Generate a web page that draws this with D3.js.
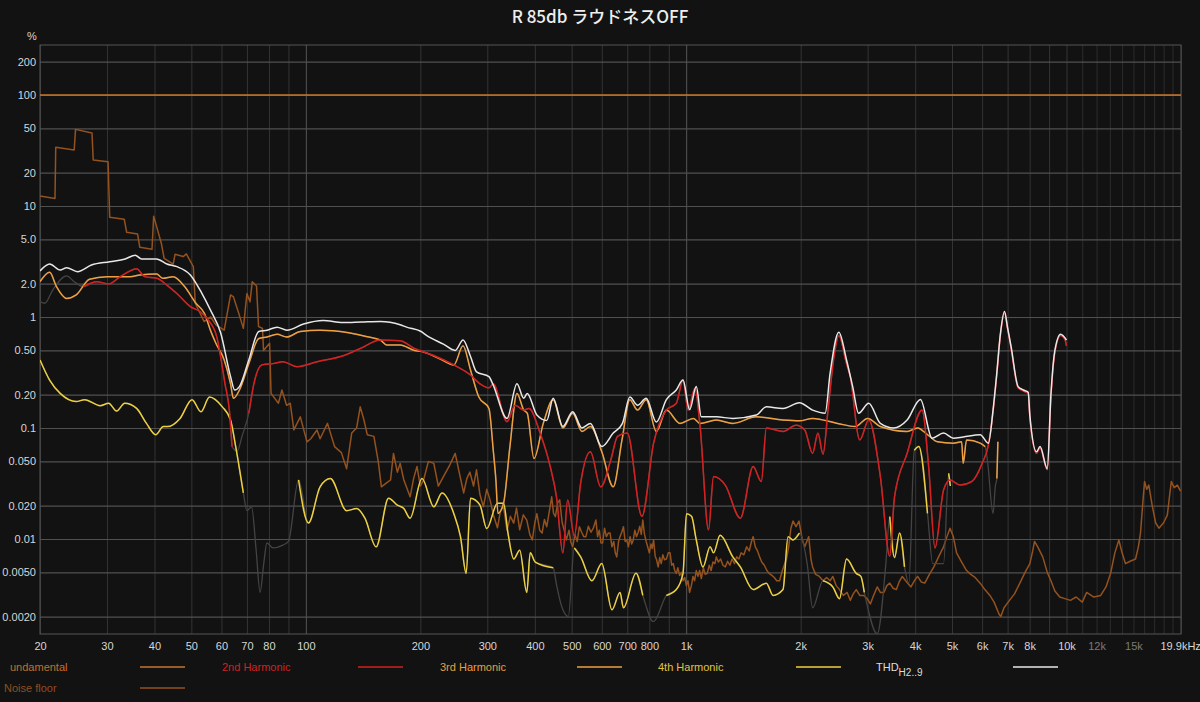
<!DOCTYPE html>
<html><head><meta charset="utf-8">
<script src="https://cdn.jsdelivr.net/npm/d3@7/dist/d3.min.js"></script>
<style>
html,body{margin:0;padding:0;background:#121212;}
svg{display:block;font-family:"Liberation Sans",Arial,sans-serif;}
</style></head>
<body>
<script>
// ---------------- DATA ----------------
const chartTitle = "R 85db ラウドネスOFF";
const yUnit = "%";
const xTickValues = [20,30,40,50,60,70,80,100,200,300,400,500,600,700,800,1000,2000,3000,4000,5000,6000,7000,8000,10000,12000,15000,19900];
const xTickLabels = ["20","30","40","50","60","70","80","100","200","300","400","500","600","700","800","1k","2k","3k","4k","5k","6k","7k","8k","10k","12k","15k","19.9kHz"];
const yTickValues = [200,100,50,20,10,5,2,1,0.5,0.2,0.1,0.05,0.02,0.01,0.005,0.002];
const yTickLabels = ["200","100","50","20","10","5.0","2.0","1","0.50","0.20","0.1","0.050","0.020","0.01","0.0050","0.0020"];

const fundamental = [[20,100],[20000,100]];

const noiseFloor = [[20,12.3],[21.9,11.7],[22,33.8],[24.6,32],[24.8,49],[27.4,45.5],[27.6,26],[30.2,25],[30.5,7.9],[33.3,7.6],[33.8,5.8],[36.1,5.6],[36.6,4.24],[39.4,4.07],[39.8,8.1],[41.7,4.6],[42.4,3.38],[44.8,3.0],[45.3,3.67],[47.6,3.5],[48.5,3.7],[50.6,2.84],[51.2,1.33],[54,0.91],[56.2,1.0],[58,0.85],[61,0.76],[63.4,1.58],[64.5,1.52],[66.5,1.1],[68.5,0.79],[70,1.63],[71.3,1.37],[72.3,2.08],[74.2,1.9],[75.1,0.82],[76.9,0.79],[77.4,0.5],[80.3,0.58],[81,0.205],[84.7,0.167],[86.5,0.22],[89,0.16],[91,0.167],[93,0.096],[96.7,0.126],[100.7,0.075],[103,0.08],[107,0.096],[109,0.08],[114,0.11],[119,0.068],[124,0.06],[128,0.043],[132,0.09],[136,0.1],[139,0.155],[142,0.12],[145,0.087],[151,0.084],[155,0.05],[158,0.0295],[163,0.032],[167,0.034],[170,0.059],[174,0.04],[177,0.048],[181,0.034],[188,0.024],[192,0.035],[196,0.045],[200,0.03],[204,0.034],[210,0.05],[217,0.048],[223,0.03],[230,0.0365],[238,0.045],[247,0.059],[253,0.04],[260,0.026],[265,0.035],[270,0.04],[276,0.03],[281,0.042],[287,0.025],[293,0.0195],[299,0.028],[305,0.0225],[312,0.016],[319,0.0126],[325,0.018],[331,0.0195],[338,0.012],[345,0.016],[352,0.0139],[358,0.019],[365,0.0121],[373,0.0165],[381,0.0148],[388,0.011],[394,0.0098],[400,0.014],[405,0.0169],[412,0.012],[418,0.0113],[424,0.015],[430,0.0129],[437,0.018],[443,0.024],[448,0.017],[453,0.0159],[459,0.021],[465,0.0225],[472,0.014],[478,0.012],[484,0.0098],[492,0.012],[497,0.0095],[503,0.0085],[510,0.011],[517,0.0095],[524,0.0129],[531,0.0115],[538,0.0105],[545,0.0105],[553,0.013],[562,0.0115],[570,0.0125],[579,0.0148],[585,0.0105],[591,0.012],[597,0.0092],[603,0.0092],[610,0.0125],[617,0.0105],[624,0.0113],[631,0.0113],[638,0.0085],[645,0.0095],[651,0.0075],[657,0.0069],[664,0.0095],[670,0.0105],[677,0.0115],[684,0.0129],[691,0.0095],[698,0.0098],[705,0.0085],[712,0.0105],[719,0.009],[726,0.0098],[733,0.012],[740,0.0105],[748,0.0115],[755,0.013],[762,0.011],[769,0.0148],[777,0.011],[785,0.0095],[792,0.0085],[800,0.0075],[808,0.009],[814,0.0082],[821,0.0098],[829,0.007],[836,0.0065],[844,0.0056],[852,0.0068],[860,0.006],[868,0.0072],[877,0.0065],[887,0.0066],[897,0.0075],[907,0.0075],[916,0.0058],[925,0.006],[933,0.0052],[942,0.0049],[951,0.0055],[961,0.0047],[971,0.005],[981,0.0042],[991,0.0045],[1001,0.0038],[1011,0.0042],[1021,0.0033],[1032,0.0038],[1042,0.0046],[1052,0.0042],[1063,0.0052],[1074,0.0046],[1085,0.0052],[1096,0.0044],[1110,0.0055],[1122,0.0048],[1136,0.0049],[1150,0.0058],[1163,0.0052],[1176,0.0062],[1190,0.006],[1200,0.0069],[1215,0.0062],[1232,0.0066],[1249,0.0058],[1267,0.0056],[1285,0.0063],[1303,0.0058],[1320,0.0066],[1340,0.006],[1357,0.0069],[1376,0.0066],[1395,0.0075],[1418,0.0072],[1442,0.0085],[1465,0.0078],[1485,0.0095],[1500,0.0105],[1520,0.0085],[1540,0.0078],[1560,0.0069],[1580,0.0062],[1605,0.0058],[1630,0.0052],[1652,0.0049],[1680,0.0047],[1705,0.0045],[1730,0.0042],[1760,0.0042],[1790,0.0052],[1835,0.0066],[1860,0.0085],[1885,0.0125],[1910,0.0145],[1945,0.0129],[1980,0.0145],[2020,0.0098],[2050,0.0085],[2100,0.0105],[2130,0.0065],[2150,0.0056],[2190,0.0048],[2240,0.0046],[2290,0.0042],[2340,0.0045],[2390,0.0042],[2430,0.0046],[2480,0.0038],[2530,0.0035],[2590,0.0031],[2650,0.0033],[2700,0.0028],[2750,0.0032],[2800,0.0035],[2860,0.0031],[2930,0.0031],[2990,0.0029],[3050,0.0026],[3110,0.0031],[3180,0.0037],[3240,0.0033],[3310,0.0033],[3370,0.0038],[3430,0.004],[3500,0.0036],[3570,0.0035],[3630,0.0041],[3700,0.0046],[3800,0.0041],[3900,0.0037],[3980,0.0042],[4060,0.0046],[4150,0.0041],[4240,0.004],[4360,0.0048],[4480,0.0056],[4620,0.007],[4750,0.0085],[4850,0.0105],[4940,0.0125],[5040,0.0105],[5140,0.0075],[5300,0.0062],[5460,0.0052],[5600,0.0048],[5750,0.0045],[5930,0.004],[6100,0.0035],[6290,0.0031],[6450,0.0027],[6650,0.0021],[6720,0.002],[6850,0.0024],[7080,0.0028],[7300,0.0032],[7540,0.004],[7780,0.005],[8010,0.006],[8150,0.0078],[8240,0.0095],[8400,0.0085],[8660,0.0069],[8900,0.005],[9100,0.0042],[9320,0.0034],[9600,0.003],[9900,0.0029],[10240,0.0028],[10600,0.003],[11000,0.0027],[11300,0.0033],[11800,0.003],[12300,0.0031],[12700,0.0037],[13060,0.0049],[13400,0.0075],[13730,0.0098],[14000,0.0075],[14290,0.006],[14700,0.0063],[15190,0.0066],[15450,0.0085],[15650,0.0113],[15850,0.02],[16040,0.0329],[16250,0.028],[16460,0.0306],[16800,0.02],[17150,0.014],[17500,0.0125],[18000,0.014],[18410,0.0164],[18650,0.024],[18860,0.0329],[19200,0.029],[19560,0.0306],[19950,0.027]];

const h2 = [[20,1.37],[20.6,1.33],[21.6,1.75],[23.5,2.35],[24.6,2.08],[26,1.88],[28.2,2.08],[30.3,1.98],[32.5,2.31],[34.2,2.56],[35.9,2.72],[37.7,2.31],[40.6,2.23],[43.1,1.94],[45.8,1.63],[49.7,1.24],[52.7,1.12],[55.4,0.94],[58.3,0.665],[61.3,0.25],[63,0.14],[64,0.068],[66,0.062],[68,0.085],[70.8,0.136],[73,0.25],[76.6,0.37],[82,0.38],[87,0.395],[94.7,0.357],[107,0.395],[126,0.45],[139,0.52],[157,0.62],[177,0.61],[193,0.52],[217,0.45],[245,0.37],[271,0.3],[287,0.25],[303,0.23],[311,0.25],[338,0.114],[355,0.16],[374,0.145],[386,0.15],[413,0.09],[439,0.045],[456,0.024],[474,0.0075],[488,0.0225],[508,0.0106],[528,0.032],[560,0.061],[596,0.0295],[634,0.052],[660,0.084],[700,0.09],[765,0.016],[821,0.073],[887,0.145],[942,0.167],[981,0.27],[1012,0.145],[1054,0.228],[1088,0.103],[1145,0.0121],[1180,0.0365],[1267,0.0306],[1388,0.0154],[1500,0.045],[1576,0.0329],[1625,0.1],[1797,0.093],[1945,0.106],[2050,0.096],[2150,0.059],[2220,0.09],[2290,0.058],[2360,0.145],[2450,0.45],[2520,0.68],[2640,0.38],[2700,0.29],[2860,0.078],[3020,0.118],[3240,0.0365],[3430,0.007],[3530,0.024],[3810,0.059],[4170,0.145],[4340,0.045],[4510,0.0083],[4750,0.0276],[4940,0.034],[5250,0.0306],[5640,0.033],[6000,0.048],[6230,0.07],[6410,0.14],[6550,0.29],[6700,0.68],[6870,1.09],[7000,0.78],[7150,0.52],[7460,0.23],[7700,0.215],[7930,0.205],[8010,0.125],[8340,0.059],[8520,0.066],[8900,0.042],[9100,0.19],[9320,0.48],[9650,0.68],[9900,0.63],[10000,0.55]];
const h2Faded = [[19,25.9],[64.5,70.5]];

const h3 = [[20,2.08],[21.2,2.53],[22.1,1.88],[23.5,1.47],[24.9,1.58],[27,2.19],[30,2.31],[34.5,2.31],[36.6,2.39],[40.5,2.44],[42.1,2.23],[44.8,2.31],[48,1.88],[51.4,1.33],[54.1,1.08],[56.2,0.75],[58,0.58],[61,0.41],[63.4,0.25],[64.5,0.185],[66.9,0.22],[70.8,0.38],[75.2,0.64],[79,0.66],[84,0.70],[89,0.66],[96.7,0.74],[109,0.76],[118,0.75],[145,0.665],[157,0.62],[163,0.56],[177,0.56],[193,0.50],[201,0.49],[225,0.42],[245,0.37],[259,0.55],[271,0.333],[285,0.19],[303,0.15],[311,0.063],[316,0.034],[320,0.017],[331,0.021],[344,0.068],[359,0.205],[374,0.145],[382,0.136],[398,0.053],[421,0.11],[447,0.18],[474,0.1],[503,0.136],[532,0.093],[560,0.103],[600,0.061],[643,0.0295],[678,0.078],[711,0.18],[745,0.145],[785,0.18],[835,0.093],[887,0.145],[963,0.11],[1045,0.122],[1088,0.11],[1200,0.118],[1326,0.11],[1529,0.126],[1797,0.118],[1985,0.116],[2150,0.122],[2500,0.11],[2780,0.103],[3000,0.122],[3240,0.103],[3810,0.093],[4060,0.1],[4310,0.087],[4580,0.075],[5040,0.073],[5300,0.075],[5350,0.048],[5460,0.078],[5930,0.073],[6110,0.068],[6200,0.05],[6410,0.017],[6500,0.03],[6560,0.035],[6600,0.075]];
const h3Faded = [[6150,6550]];

const h4 = [[20,0.41],[21.2,0.27],[22.6,0.205],[24.9,0.173],[26.2,0.18],[28.8,0.159],[30.3,0.167],[31.8,0.142],[33.4,0.167],[35.9,0.15],[38.1,0.11],[40.3,0.087],[42.2,0.103],[43.3,0.103],[46.7,0.122],[50.2,0.18],[53,0.14],[55.8,0.19],[60.3,0.155],[63.4,0.118],[65.4,0.068],[68.5,0.026],[70,0.018],[72,0.0195],[74,0.008],[75.8,0.0033],[77.5,0.006],[79,0.0092],[82,0.0083],[87,0.0088],[90,0.0095],[95.7,0.034],[101.6,0.0139],[109,0.0295],[116,0.035],[128,0.018],[136,0.0188],[143,0.0154],[153,0.0085],[165,0.0233],[174,0.0202],[181,0.0188],[188,0.0154],[202,0.035],[217,0.0195],[228,0.026],[245,0.0169],[255,0.0105],[264,0.0049],[271,0.0233],[287,0.0202],[299,0.0124],[319,0.021],[331,0.021],[340,0.0113],[352,0.0066],[365,0.0079],[381,0.0033],[389,0.0075],[401,0.0062],[447,0.0055],[456,0.0039],[470,0.0025],[490,0.002],[508,0.0083],[528,0.0069],[565,0.0042],[600,0.006],[638,0.0023],[670,0.0033],[684,0.0024],[738,0.0049],[769,0.0031],[820,0.0018],[887,0.0031],[942,0.0035],[981,0.0049],[1002,0.0169],[1033,0.016],[1063,0.0098],[1107,0.0056],[1156,0.0085],[1180,0.0075],[1228,0.0108],[1326,0.0069],[1388,0.0056],[1500,0.0035],[1625,0.004],[1692,0.0031],[1797,0.0035],[1853,0.0105],[1908,0.0098],[1985,0.0113],[2080,0.006],[2150,0.0024],[2290,0.0042],[2430,0.0037],[2530,0.0029],[2640,0.0066],[2800,0.0049],[2880,0.0046],[2940,0.0033],[3180,0.0014],[3350,0.006],[3430,0.0159],[3530,0.0068],[3640,0.0113],[3750,0.0056],[3850,0.004],[3980,0.063],[4090,0.068],[4310,0.017],[4450,0.006],[4750,0.006],[4900,0.039],[4950,0.03]];
const h4Faded = [[69,92],[455,500],[780,870],[2080,2200],[3000,3380],[3780,3950],[4350,4850]];

const thd = [[20,2.6],[21.2,3.0],[22.6,2.65],[23.5,2.78],[25.1,2.56],[27.3,2.94],[30.5,3.15],[33.5,3.33],[35.6,3.6],[37,3.33],[40.5,3.33],[43.1,3.0],[45.8,2.84],[49.7,2.39],[53.2,1.65],[56.1,1.16],[59.7,0.72],[63.4,0.29],[65,0.22],[66.9,0.236],[70.8,0.41],[75.2,0.74],[79.1,0.76],[84,0.81],[89.2,0.76],[98.6,0.865],[111,0.93],[125,0.89],[140,0.9],[157,0.91],[177,0.85],[184,0.81],[201,0.74],[208,0.68],[230,0.57],[247,0.5],[259,0.62],[271,0.44],[281,0.32],[303,0.29],[310,0.25],[338,0.122],[359,0.25],[374,0.185],[382,0.205],[405,0.131],[430,0.117],[447,0.185],[474,0.103],[503,0.14],[532,0.1],[560,0.11],[600,0.068],[643,0.09],[680,0.11],[711,0.19],[745,0.16],[785,0.185],[835,0.113],[887,0.18],[942,0.22],[981,0.27],[1021,0.146],[1063,0.236],[1096,0.126],[1200,0.126],[1326,0.122],[1529,0.131],[1625,0.155],[1797,0.15],[1985,0.169],[2150,0.145],[2320,0.136],[2390,0.31],[2520,0.73],[2640,0.41],[2740,0.236],[2840,0.136],[3020,0.167],[3240,0.11],[3510,0.1],[3810,0.118],[4130,0.181],[4430,0.081],[4750,0.09],[5040,0.081],[5350,0.083],[5930,0.087],[6230,0.073],[6410,0.145],[6550,0.3],[6700,0.7],[6870,1.12],[7000,0.8],[7150,0.54],[7460,0.236],[7700,0.22],[7930,0.21],[8010,0.13],[8340,0.061],[8520,0.068],[8900,0.043],[9100,0.2],[9320,0.5],[9650,0.7],[10000,0.62]];

const legendNames = ["undamental","2nd Harmonic","3rd Harmonic","4th Harmonic","THD","Noise floor"];

// ---------------- CHART ----------------
const W = 1200, H = 702;
const L = 40, R = 1181, T = 45, B = 634;
const x = d3.scaleLog().domain([20, 20000]).range([L, R]);
const y = d3.scaleLog().domain([0.001393, 282.1]).range([B, T]);

const svg = d3.select("body").append("svg").attr("width", W).attr("height", H);
svg.append("rect").attr("width", W).attr("height", H).attr("fill", "#121212");

svg.append("defs").append("clipPath").attr("id", "plot")
  .append("rect").attr("x", L).attr("y", T).attr("width", R - L).attr("height", B - T);

// vertical grid
const gridF = [];
[10, 100, 1000, 10000].forEach(d => { for (let m = 1; m <= 9; m++) { const f = d * m; if (f >= 20 && f <= 20000) gridF.push(f); } });
for (let k = 11; k <= 19; k++) gridF.push(k * 1000);
const vg = svg.append("g").attr("transform", `translate(0,${B})`)
  .call(d3.axisBottom(x).tickValues(gridF).tickSize(-(B - T)).tickFormat(""));
vg.select(".domain").remove();
vg.selectAll("line").attr("stroke", f => ([100, 1000].includes(f) ? "#565656" : (f > 10000 ? "#2c2c2c" : "#343434"))).attr("stroke-width", 1);

// horizontal grid
const hg = svg.append("g").attr("transform", `translate(${L},0)`)
  .call(d3.axisLeft(y).tickValues(yTickValues).tickSize(-(R - L)).tickFormat(""));
hg.select(".domain").remove();
hg.selectAll("line").attr("stroke", "#505050").attr("stroke-width", 1.2);

// frame
svg.append("rect").attr("x", L).attr("y", T).attr("width", R - L).attr("height", B - T)
  .attr("fill", "none").attr("stroke", "#555").attr("stroke-width", 1);

// y labels
const ya = svg.append("g").attr("transform", `translate(${L},0)`)
  .call(d3.axisLeft(y).tickValues(yTickValues).tickSize(0).tickPadding(4)
    .tickFormat((d, i) => yTickLabels[i]));
ya.select(".domain").remove();
ya.selectAll("text").attr("fill", "#d6d6d6").style("font-size", "11px");
svg.append("text").attr("x", 32).attr("y", 40).attr("text-anchor", "middle")
  .attr("fill", "#d6d6d6").style("font-size", "11px").text(yUnit);

// x labels
const xa = svg.append("g").attr("transform", `translate(0,${B})`)
  .call(d3.axisBottom(x).tickValues(xTickValues).tickSize(0).tickPadding(8)
    .tickFormat((d, i) => xTickLabels[i]));
xa.select(".domain").remove();
xa.selectAll("text").attr("fill", d => (d === 12000 || d === 15000) ? "#7a7a7a" : "#d6d6d6").style("font-size", "11px");

// title
svg.append("text").attr("x", 600).attr("y", 23).attr("text-anchor", "middle")
  .attr("fill", "#eeeeee").style("font-family", "'Noto Sans CJK JP','Noto Sans',sans-serif")
  .style("font-size", "17px").style("font-weight", "500").text(chartTitle);

// curves
const plot = svg.append("g").attr("clip-path", "url(#plot)");
const smooth = d3.line().x(d => x(d[0])).y(d => y(d[1])).curve(d3.curveMonotoneX);
const straight = d3.line().x(d => x(d[0])).y(d => y(d[1]));

function segments(data, faded) {
  const inF = f => faded.some(r => f >= r[0] && f <= r[1]);
  const out = []; let cur = [];
  data.forEach(d => {
    if (inF(d[0])) { if (cur.length) out.push(cur); cur = []; }
    else cur.push(d);
  });
  if (cur.length) out.push(cur);
  return out.filter(s => s.length > 1);
}

const colors = { fund: "#c8762f", noise: "#94521f", h2: "#d42020", h3: "#eea040", h4: "#ecd040", thd: "#e8e8e8", faded: "#444" };

plot.append("path").attr("d", straight(fundamental)).attr("fill", "none").attr("stroke", colors.fund).attr("stroke-width", 1.5);
plot.append("path").attr("d", straight(noiseFloor)).attr("fill", "none").attr("stroke", colors.noise).attr("stroke-width", 1.5).attr("stroke-linejoin", "round");

// faded (grey) full traces underneath
[h4, h3, h2].forEach(s => plot.append("path").attr("d", smooth(s)).attr("fill", "none").attr("stroke", colors.faded).attr("stroke-width", 1.3));

[[h4, h4Faded, colors.h4], [h3, h3Faded, colors.h3], [h2, h2Faded, colors.h2]].forEach(([s, f, c]) => {
  segments(s, f).forEach(seg => plot.append("path").attr("d", smooth(seg)).attr("fill", "none").attr("stroke", c).attr("stroke-width", 1.5));
});
plot.append("path").attr("d", smooth(thd)).attr("fill", "none").attr("stroke", colors.thd).attr("stroke-width", 1.5);

// legend
const leg = svg.append("g").style("font-size", "11px");
const legendItems = [
  { name: legendNames[0], tx: 10, ty: 671, lx: 140, ly: 667, c: colors.fund, tc: "#c0702c" },
  { name: legendNames[1], tx: 222, ty: 671, lx: 358, ly: 667, c: colors.h2, tc: "#cf2222" },
  { name: legendNames[2], tx: 440, ty: 671, lx: 577, ly: 667, c: colors.h3, tc: "#e6a040" },
  { name: legendNames[3], tx: 658, ty: 671, lx: 796, ly: 667, c: colors.h4, tc: "#e0c440" },
  { name: legendNames[4], tx: 876, ty: 671, lx: 1013, ly: 667, c: colors.thd, tc: "#dddddd", sub: "H2..9" },
  { name: legendNames[5], tx: 4, ty: 692, lx: 140, ly: 688, c: colors.noise, tc: "#8f4f22" }
];
legendItems.forEach(it => {
  const t = leg.append("text").attr("x", it.tx).attr("y", it.ty).attr("fill", it.tc).text(it.name);
  if (it.sub) t.append("tspan").attr("dy", 5).style("font-size", "10px").text(it.sub);
  leg.append("line").attr("x1", it.lx).attr("x2", it.lx + 45).attr("y1", it.ly).attr("y2", it.ly)
    .attr("stroke", it.c).attr("stroke-width", 1.5);
});
</script>
</body></html>
